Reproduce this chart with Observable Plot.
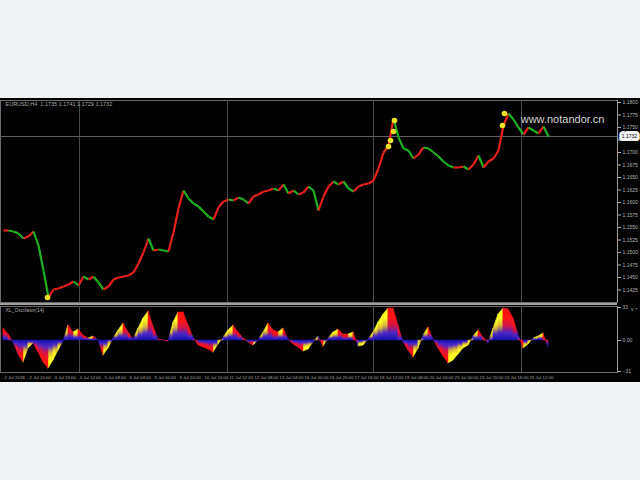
<!DOCTYPE html>
<html><head><meta charset="utf-8">
<script src="https://cdn.jsdelivr.net/npm/d3@7"></script>
<script src="https://cdn.jsdelivr.net/npm/@observablehq/plot@0.6"></script>
<style>
html,body{margin:0;padding:0;background:#f1f2f4;width:640px;height:480px;overflow:hidden;}
#chart{position:absolute;left:0;top:98px;width:640px;height:284px;background:#000;}
#chart svg{display:block;}
#sep{position:absolute;left:0;top:205px;width:617px;height:2px;background:#a0a0a0;}
</style></head><body>
<div id="chart"><div id="upper"></div><div id="lower"></div><div id="sep"></div></div>
<script>
const symbolTitle = "EURUSD,H4  1.1735 1.1741 1.1729 1.1732";
const oscTitle = "XL_Oscillator(14)";
const watermark = "www.notandor.cn";

const closes = [
1.1544,1.1544,1.1542,1.1538,1.1528,1.1532,1.1542,1.1514,1.1464,1.1410,
1.1426,1.1428,1.1432,1.1436,1.1442,1.1434,1.1452,1.1446,1.1452,1.1440,
1.1426,1.1432,1.1446,1.1450,1.1452,1.1454,1.1460,1.1478,1.1500,1.1528,
1.1504,1.1506,1.1504,1.1502,1.1540,1.1588,1.1624,1.1608,1.1598,1.1592,
1.1582,1.1572,1.1566,1.1590,1.1602,1.1606,1.1604,1.1610,1.1606,1.1598,
1.1612,1.1616,1.1622,1.1624,1.1628,1.1624,1.1636,1.1618,1.1624,1.1616,
1.1620,1.1632,1.1624,1.1584,1.1612,1.1632,1.1642,1.1636,1.1642,1.1628,
1.1622,1.1632,1.1636,1.1638,1.1644,1.1668,1.1700,1.1712,1.1768,1.1730,
1.1708,1.1704,1.1688,1.1696,1.1710,1.1708,1.1700,1.1692,1.1682,1.1674,
1.1670,1.1670,1.1672,1.1666,1.1676,1.1694,1.1670,1.1682,1.1688,1.1704,
1.1754,1.1778,1.1766,1.1750,1.1736,1.1750,1.1744,1.1738,1.1752,1.1732
];

const oscValues = [
12,6,-2,-14,-22,-8,-3,-12,-22,-28,
-20,-10,-1,15,8,11,5,2,4,0,
-15,-8,2,10,17,8,1,12,22,29,
14,1,0,-1,18,28,28,15,3,-5,
-7,-9,-12,-4,3,10,15,8,2,-2,
-5,0,8,17,10,8,12,1,-4,-7,
-11,-9,-2,4,-6,2,8,11,6,6,
8,-6,-5,1,8,18,26,32,32,15,
-2,-10,-17,-8,5,13,1,-8,-16,-23,
-20,-14,-8,-5,4,10,3,-3,12,26,
32,31,22,6,-8,-4,2,4,7,-7
];

const dotBars = [8.8, 77, 77.4, 78, 78.2, 99.8, 100.2];
const dotPrices = [1.1410, 1.1712, 1.1724, 1.1742, 1.1764, 1.1754, 1.1778];

const gridBars = [15.2, 44.8, 74.0, 103.6];
const priceTicks = [1.1425,1.1450,1.1475,1.1500,1.1525,1.1550,1.1575,1.1600,1.1625,1.1650,1.1675,1.1700,1.1725,1.1750,1.1775,1.1800];
const oscTicks = [33, 0, -31];
const timeBars = [0,5,10,15,20,25,30,35,40,45,50,55,60,65,70,75,80,85,90,95,100,105];
const timeLabels = ["2 Jul 2018","2 Jul 20:00","3 Jul 16:00","4 Jul 12:00","5 Jul 08:00","6 Jul 04:00",
"9 Jul 00:00","9 Jul 20:00","10 Jul 16:00","11 Jul 12:00","12 Jul 08:00","13 Jul 04:00",
"16 Jul 00:00","16 Jul 20:00","17 Jul 16:00","18 Jul 12:00","19 Jul 08:00","20 Jul 04:00",
"23 Jul 00:00","23 Jul 20:00","24 Jul 16:00","25 Jul 12:00"];

const FONT = "Liberation Sans, Arial, sans-serif";
const xDomain = [-0.6, 122.8];
const lastClose = closes[closes.length - 1];
const fmt4 = d3.format(".4f");

const segs = closes.slice(1).map((c, k) => ({x1: k, y1: closes[k], x2: k + 1, y2: c, up: c >= closes[k]}));
const dots = dotBars.map((b, k) => ({bar: b, price: dotPrices[k]}));

const upper = Plot.plot({
  width: 640, height: 206,
  marginTop: 2, marginBottom: 2, marginLeft: 0, marginRight: 23,
  style: {background: "#000", fontFamily: FONT},
  x: {domain: xDomain, axis: null},
  y: {domain: [1.1400, 1.1804], axis: null},
  marks: [
    Plot.frame({stroke: "#6a6a6a"}),
    Plot.ruleX(gridBars, {stroke: "#4a4a4a", strokeWidth: 1}),
    Plot.ruleY([lastClose], {stroke: "#5e5e5e"}),
    Plot.link(segs, {x1: "x1", y1: "y1", x2: "x2", y2: "y2",
      stroke: d => d.up ? "#e8201a" : "#1fb21f", strokeWidth: 2.2}),
    Plot.dot(dots, {x: "bar", y: "price", r: 2.8, fill: "#ede226"}),
    Plot.ruleX([xDomain[1]], {stroke: "#9a9a9a"}),
    Plot.axisY({anchor: "right", ticks: priceTicks, tickSize: 3, tickPadding: 2,
      fontSize: 5, color: "#b4b4b4",
      tickFormat: d => Math.abs(d - lastClose) < 0.0012 ? "" : fmt4(d)}),
    Plot.text([lastClose], {y: d => d, frameAnchor: "right", dx: 12, text: d => fmt4(d),
      fill: "#000", stroke: "#f4f4f4", strokeWidth: 6, fontSize: 5, textAnchor: "middle"}),
    Plot.text([symbolTitle], {frameAnchor: "top-left", dx: 5, dy: 2, text: d => d,
      fill: "#a8a8a8", fontSize: 5.5, textAnchor: "start", lineAnchor: "top"}),
    Plot.text([watermark], {frameAnchor: "top-right", dx: -13, dy: 15, text: d => d,
      fill: "#d6d6d6", fontSize: 11, textAnchor: "end"})
  ]
});
document.getElementById("upper").appendChild(upper);

// oscillator segments, split by direction and by sign
const oscRows = [];
oscValues.forEach((v, i) => {
  if (i === 0) return;
  const p = oscValues[i - 1];
  const up = v > p;
  const pos = (p + v) >= 0;
  oscRows.push({seg: i, bar: i - 1, v: p, up, pos});
  oscRows.push({seg: i, bar: i, v: v, up, pos});
});
const oscArea = (up, pos, id) => Plot.areaY(oscRows.filter(d => d.up === up && d.pos === pos),
  {x: "bar", y1: 0, y2: "v", z: "seg", fill: `url(#${id})`, stroke: `url(#${id})`, strokeWidth: 0.5, curve: "linear"});

const oscDomain = [-32, 34];
const lower = Plot.plot({
  width: 640, height: 78,
  marginTop: 2, marginBottom: 10, marginLeft: 0, marginRight: 23,
  style: {background: "#000", fontFamily: FONT},
  x: {domain: xDomain, axis: null},
  y: {domain: oscDomain, axis: null},
  marks: [
    Plot.frame({stroke: "#6a6a6a"}),
    Plot.ruleX(gridBars, {stroke: "#4a4a4a", strokeWidth: 1}),
    oscArea(true, true, "upPos"),
    oscArea(true, false, "upNeg"),
    oscArea(false, true, "dnPos"),
    oscArea(false, false, "dnNeg"),
    Plot.ruleX([xDomain[1]], {stroke: "#9a9a9a"}),
    Plot.axisY({anchor: "right", ticks: oscTicks, tickSize: 3, tickPadding: 2,
      fontSize: 5, color: "#b4b4b4", tickFormat: d => d === 0 ? "0.00" : d3.format(".0f")(d)}),
    Plot.text([oscTitle], {frameAnchor: "top-left", dx: 5, dy: 2, text: d => d,
      fill: "#a8a8a8", fontSize: 5, textAnchor: "start", lineAnchor: "top"}),
    Plot.text(timeBars, {x: d => d, frameAnchor: "bottom", dy: 6, text: (d, k) => timeLabels[k],
      fill: "#a8a8a8", fontSize: 4.4, textAnchor: "start", dx: 1})
  ]
});
document.getElementById("lower").appendChild(lower);

// per-shape gradients: extreme colour -> purple -> blue at the zero line
const defs = d3.select(lower).insert("defs", ":first-child");
function grad(id, hot, mid, hotAtTop) {
  const g = defs.append("linearGradient").attr("id", id)
    .attr("x1", 0).attr("x2", 0).attr("y1", hotAtTop ? 0 : 1).attr("y2", hotAtTop ? 1 : 0);
  [[0, hot], [0.3, hot], [0.55, mid], [0.78, "#4a26c8"], [1, "#1410a8"]]
    .forEach(([o, c]) => g.append("stop").attr("offset", o).attr("stop-color", c));
}
grad("upPos", "#ffff22", "#d8b23a", true);
grad("upNeg", "#ffff22", "#d8b23a", false);
grad("dnPos", "#ff1414", "#d01446", true);
grad("dnNeg", "#ff1414", "#d01446", false);
</script>
</body></html>
